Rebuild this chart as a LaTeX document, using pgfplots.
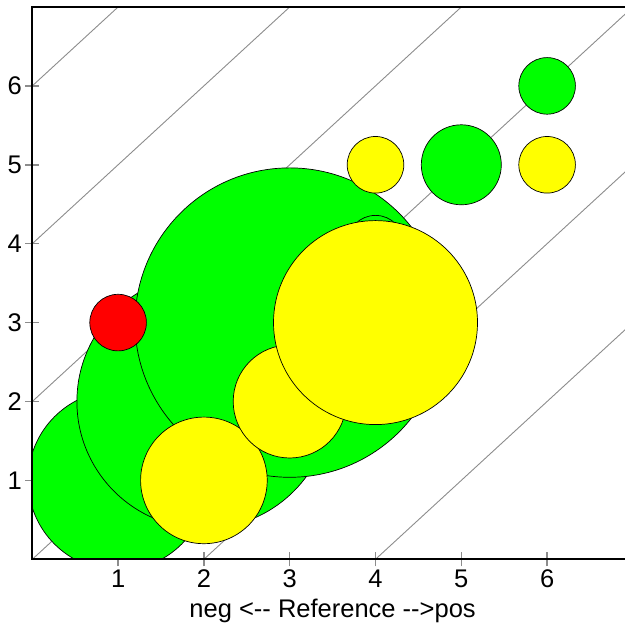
\documentclass[border=0pt]{standalone}
\usepackage{fontspec}
\setmainfont{Liberation Sans}
\usepackage{pgfplots}
\usepackage{pgfplotstable}
\pgfplotsset{compat=1.18}
\definecolor{dgray}{RGB}{140,140,140}
\definecolor{pgreen}{RGB}{0,255,0}
\definecolor{pyellow}{RGB}{255,255,0}
\definecolor{pred}{RGB}{255,0,0}
\pgfplotstableread{
x y r
1 1 90
2 2 127
3 3 154.7
4 4 28.3
5 5 40
6 6 28.3
}\greentab
\pgfplotstableread{
x y r
1 3 28.3
}\redtab
\pgfplotstableread{
x y r
2 1 63.3
3 2 56.5
4 3 102
4 5 28.3
6 5 28.3
}\yellowtab
\begin{document}
\begin{tikzpicture}[x=1bp,y=1bp]
\useasboundingbox (0,0) rectangle (625,625);
\begin{axis}[
  name=ax,
  at={(32.3bp,65.7bp)}, anchor=south west,
  scale only axis, width=600.6bp, height=552.3bp,
  xmin=0, xmax=7, ymin=0, ymax=7,
  axis line style={draw=none},
  xtick={1,2,3,4,5,6}, ytick={1,2,3,4,5,6},
  xtick pos=bottom, ytick pos=left,
  tick align=center, major tick length=14bp,
  tick style={dgray, line width=1.5bp},
  ticklabel style={font=\fontsize{25.5bp}{30bp}\selectfont},
  /pgf/number format/assume math mode=true,
  xlabel={neg <-{}- Reference -{}->pos},
  xlabel style={font=\fontsize{25.5bp}{30bp}\selectfont, yshift=-4bp},
  clip marker paths=true,
]
\addplot[dgray, line width=0.9bp, no marks] coordinates {(-1,-5) (8,4)};
\addplot[dgray, line width=0.9bp, no marks] coordinates {(-1,-3) (8,6)};
\addplot[dgray, line width=0.9bp, no marks] coordinates {(-1,-1) (8,8)};
\addplot[dgray, line width=0.9bp, no marks] coordinates {(-1,1) (8,10)};
\addplot[dgray, line width=0.9bp, no marks] coordinates {(-1,3) (8,12)};
\addplot[dgray, line width=0.9bp, no marks] coordinates {(-1,5) (8,14)};
\addplot[scatter, only marks, mark=*,
  scatter/use mapped color={draw=black, fill=pgreen},
  mark options={line width=0.7bp},
  visualization depends on={\thisrow{r} \as \rad},
  scatter/@pre marker code/.append style={/tikz/mark size=\rad bp}]
  table[x=x, y=y] {\greentab};
\addplot[scatter, only marks, mark=*,
  scatter/use mapped color={draw=black, fill=pred},
  mark options={line width=0.7bp},
  visualization depends on={\thisrow{r} \as \rad},
  scatter/@pre marker code/.append style={/tikz/mark size=\rad bp}]
  table[x=x, y=y] {\redtab};
\addplot[scatter, only marks, mark=*,
  scatter/use mapped color={draw=black, fill=pyellow},
  mark options={line width=0.7bp},
  visualization depends on={\thisrow{r} \as \rad},
  scatter/@pre marker code/.append style={/tikz/mark size=\rad bp}]
  table[x=x, y=y] {\yellowtab};
\end{axis}
\draw[line width=2bp, line join=miter] (ax.south east) -- (ax.south west) -- (ax.north west) -- (ax.north east);
\end{tikzpicture}
\end{document}
